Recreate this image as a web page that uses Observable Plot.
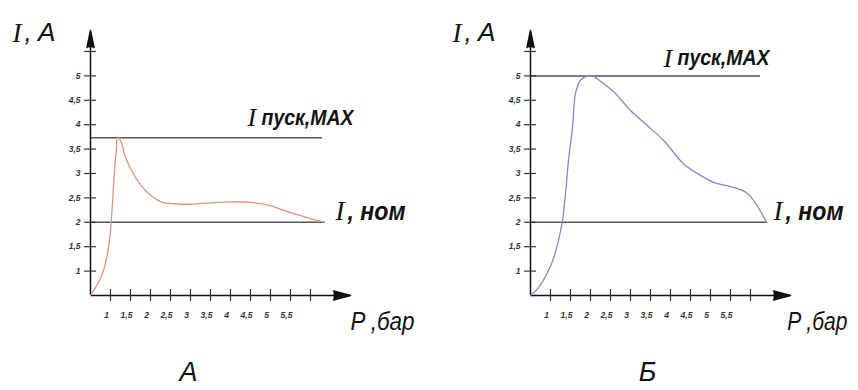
<!DOCTYPE html>
<html>
<head>
<meta charset="utf-8">
<script src="https://cdn.jsdelivr.net/npm/d3@7"></script>
<script src="https://cdn.jsdelivr.net/npm/@observablehq/plot@0.6"></script>
<style>
  html, body { margin: 0; padding: 0; background: #fff; }
  #row { display: flex; width: 858px; height: 390px; }
  svg { overflow: visible; }
</style>
</head>
<body>
<div id="row"></div>
<script>
// ---- data ----
const pTicks = [1, 1.5, 2, 2.5, 3, 3.5, 4, 4.5, 5, 5.5, 6];
const pTickLabels = ["1", "1,5", "2", "2,5", "3", "3,5", "4", "4,5", "5", "5,5"];
const iTicks = [1, 1.5, 2, 2.5, 3, 3.5, 4, 4.5, 5, 5.5];
const iTickLabels = ["1", "1,5", "2", "2,5", "3", "3,5", "4", "4,5", "5"];

const curveA_P = [0.5, 0.625, 0.8, 0.925, 1.0, 1.05, 1.1, 1.15, 1.175, 1.25, 1.375, 1.625, 1.95, 2.3, 2.625, 3.0, 3.5, 4.0, 4.5, 4.9, 5.5, 6.35];
const curveA_I = [0.5, 0.66, 0.95, 1.36, 1.83, 2.39, 3.06, 3.53, 3.74, 3.68, 3.33, 2.92, 2.59, 2.41, 2.38, 2.37, 2.40, 2.42, 2.41, 2.36, 2.2, 2.0];

const curveB_P = [0.5, 0.7, 0.925, 1.075, 1.2, 1.3, 1.375, 1.45, 1.55, 1.625, 1.75, 1.925, 2.05, 2.3, 2.625, 3.0, 3.425, 3.825, 4.325, 4.675, 5.075, 5.5, 5.925, 6.4];
const curveB_I = [0.5, 0.66, 0.97, 1.26, 1.63, 2.04, 2.59, 3.27, 3.94, 4.64, 4.91, 5.0, 5.0, 4.86, 4.64, 4.29, 3.98, 3.68, 3.2, 3.0, 2.82, 2.73, 2.59, 2.0];

const iMaxA = 3.73, iMaxB = 5.0, iNom = 2.0;
const panelNames = ["А", "Б"];
const labelIA = ["I", ", A"];
const labelMax = ["I", "пуск,MAX"];
const labelNom = ["I", ", ном"];
const labelP = ["P ,бар"];

// ---- drawing ----
const serif = "'Liberation Serif', 'DejaVu Serif', serif";
const narrow = "'Liberation Sans', 'Arimo', sans-serif";

function panel(cfg) {
  const curve = cfg.P.map((p, k) => ({p, i: cfg.I[k]}));
  const svg = Plot.plot({
    width: 429,
    height: 390,
    marginLeft: cfg.ml,
    marginRight: 429 - cfg.ml - 260,
    marginTop: 30,
    marginBottom: 95,
    x: {domain: [0.5, 7.0], axis: null},
    y: {domain: [0.5, 5.93], axis: null},
    marks: [
      // reference lines
      Plot.ruleY([cfg.iMax], {x1: 0.5, x2: cfg.maxEnd, stroke: "#555", strokeWidth: 1.5}),
      Plot.ruleY([iNom], {x1: 0.5, x2: cfg.nomEnd, stroke: "#555", strokeWidth: 1.5}),
      // axes
      Plot.ruleY([0.5], {x1: 0.5, x2: 6.75, stroke: "#111", strokeWidth: 1.5}),
      Plot.ruleX([0.5], {y1: 0.5, y2: 5.6, stroke: "#111", strokeWidth: 1.5}),
      Plot.vector([0], {x: 7.0, y: 0.5, rotate: 90, length: 17, shape: "spike", anchor: "end", r: 4.5, fill: "#111", stroke: "#111"}),
      Plot.vector([0], {x: 0.5, y: 5.93, rotate: 0, length: 17, shape: "spike", anchor: "end", r: 3.5, fill: "#111", stroke: "#111"}),
      // ticks
      Plot.ruleX(pTicks, {x: d => d, y1: 0.5, y2: 0.5, insetTop: -6, insetBottom: -6, stroke: "#333", strokeWidth: 1.2}),
      Plot.ruleY(iTicks, {y: d => d, x1: 0.5, x2: 0.5, insetLeft: -6, insetRight: -6, stroke: "#333", strokeWidth: 1.2}),
      Plot.text(pTickLabels, {x: (d, k) => pTicks[k], y: 0.5, dx: -4, dy: 20, text: d => d, fontSize: 8.5, fontWeight: "bold", fontStyle: "italic", fill: "#333", fontFamily: narrow}),
      Plot.text(iTickLabels, {x: 0.5, y: (d, k) => iTicks[k], dx: -10, textAnchor: "end", text: d => d, fontSize: 8.5, fontWeight: "bold", fontStyle: "italic", fill: "#333", fontFamily: narrow}),
      // curve
      Plot.line(curve, {x: "p", y: "i", curve: "catmull-rom", stroke: cfg.color, strokeWidth: 1.3}),
      // labels
      Plot.text([labelIA[0]], {x: cfg.ia[0], y: 5.87, text: d => d, textAnchor: "start", fontSize: 27, fontStyle: "italic", fontFamily: serif, fill: "#111"}),
      Plot.text([labelIA[1]], {x: cfg.ia[1], y: 5.87, text: d => d, textAnchor: "start", fontSize: 25, fontStyle: "italic", fontFamily: narrow, fill: "#111"}),
      Plot.text([labelMax[0]], {x: cfg.mx[0], y: cfg.mx[2], text: d => d, textAnchor: "start", fontSize: 26, fontStyle: "italic", fontFamily: serif, fill: "#111"}),
      Plot.text([labelMax[1]], {x: cfg.mx[1], y: cfg.mx[2], text: d => d, textAnchor: "start", fontSize: 22, fontStyle: "italic", fontWeight: "bold", fontFamily: narrow, fill: "#111"}),
      Plot.text([labelNom[0]], {x: cfg.nm[0], y: 2.22, text: d => d, textAnchor: "start", fontSize: 27, fontStyle: "italic", fontFamily: serif, fill: "#111"}),
      Plot.text([labelNom[1]], {x: cfg.nm[1], y: 2.22, text: d => d, textAnchor: "start", fontSize: 25, fontStyle: "italic", fontWeight: "bold", fontFamily: narrow, fill: "#111"}),
      Plot.text(labelP, {x: cfg.pl, y: -0.05, text: d => d, textAnchor: "end", fontSize: 25, fontStyle: "italic", fontFamily: narrow, fill: "#111"}),
      Plot.text([cfg.name], {x: cfg.nx, y: -1.08, text: d => d, fontSize: 27, fontStyle: "italic", fontFamily: narrow, fill: "#111"})
    ]
  });
  // condense label glyphs to the narrow widths of the original lettering
  svg.querySelectorAll("text").forEach(t => {
    const w = cfg.widths[t.textContent];
    if (w) { t.setAttribute("textLength", w); t.setAttribute("lengthAdjust", "spacingAndGlyphs"); }
  });
  return svg;
}

const row = document.getElementById("row");
row.append(panel({
  ml: 90, P: curveA_P, I: curveA_I, iMax: iMaxA, maxEnd: 6.3, nomEnd: 6.375, color: "#dd9580",
  ia: [-1.45, -1.15], mx: [4.425, 4.775, 4.14], nm: [6.625, 6.925], pl: 8.6, name: panelNames[0], nx: 2.95,
  widths: {", A": 31, "пуск,MAX": 92, ", ном": 58, "P ,бар": 64}
}));
row.append(panel({
  ml: 101, P: curveB_P, I: curveB_I, iMax: iMaxB, maxEnd: 6.25, nomEnd: 6.43, color: "#7d8bd0",
  ia: [-1.45, -1.15], mx: [3.825, 4.175, 5.36], nm: [6.575, 6.875], pl: 8.42, name: panelNames[1], nx: 3.425,
  widths: {", A": 31, "пуск,MAX": 92, ", ном": 58, "P ,бар": 60}
}));
</script>
</body>
</html>
